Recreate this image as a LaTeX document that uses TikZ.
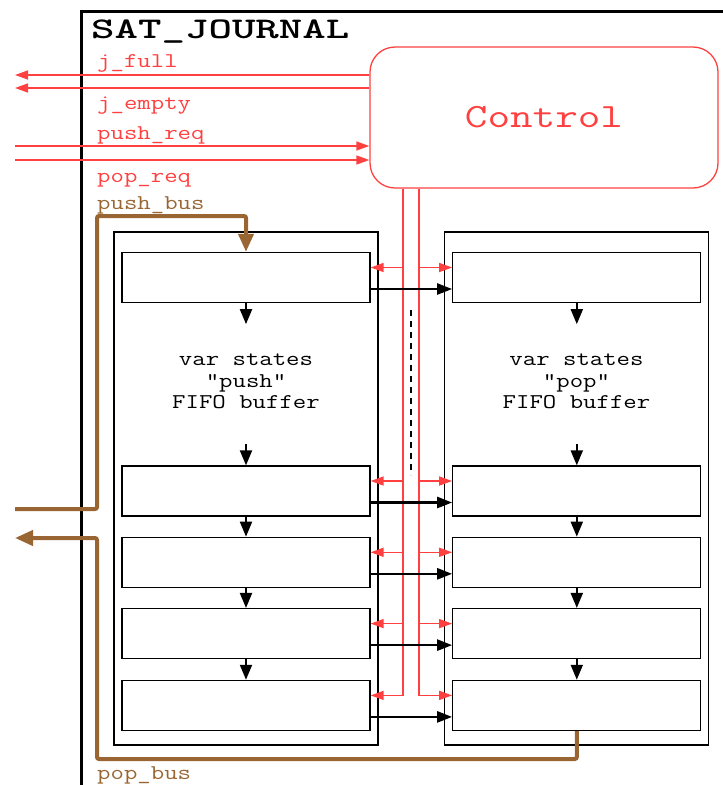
\documentclass[tikz,border=0pt]{standalone}
\usepackage{fontspec}
\usetikzlibrary{arrows.meta,positioning,calc}
\definecolor{ctlRed}{RGB}{255,64,64}
\definecolor{busBrown}{RGB}{153,102,51}
\newcommand{\widett}[2][1.24]{\scalebox{#1}[1]{#2}}
\tikzset{
	journal/.style={
		draw,
		line width=3pt,
		anchor=north west,
		minimum width=700pt,
		minimum height=800pt,
	},
	fifo/.style={draw, line width=1.2pt, minimum width=264pt, minimum height=513pt},
	slot/.style={draw, line width=1.3pt, minimum width=248pt, minimum height=50pt},
	ctlbox/.style={
		draw=ctlRed,
		line width=1.3pt,
		rounded corners=25pt,
		minimum width=348pt,
		minimum height=141pt,
		text=ctlRed,
		font=\ttfamily\fontsize{34}{36}\selectfont,
	},
	sigtext/.style={anchor=base west, inner sep=0pt, text=ctlRed, font=\ttfamily\fontsize{21}{23}\selectfont},
	bustext/.style={sigtext, text=busBrown},
	buftext/.style={inner sep=0pt, font=\ttfamily\fontsize{21}{21.5}\selectfont},
	sig/.style={draw=ctlRed, line width=1.5pt, -{Triangle[length=13pt,width=9pt]}},
	flow/.style={line width=2pt, -{Triangle[length=15pt,width=12pt]}},
	data/.style={line width=2.5pt, -{Triangle[length=15pt,width=11pt]}},
	bus/.style={draw=busBrown, line width=4pt, rounded corners=2pt, -{Triangle[length=18pt,width=15pt]}},
	gap/.style={line width=1.3pt, dash pattern=on 6pt off 5pt},
}
\begin{document}
\begin{tikzpicture}[x=1pt, y=-1pt]
	\useasboundingbox (0,0) rectangle (723,785);
	% --- Journal frame ---
	\node[journal] (journal) at (80,10) {};
	\node[anchor=base west, inner sep=0pt, font=\ttfamily\bfseries\fontsize{30}{32}\selectfont] (title) at (91,38.5) {\widett[1.49]{SAT\_JOURNAL}};
	\node[ctlbox] (ctrl) at (544,117.5) {\widett[1.29]{Control}};
	
	% --- Port labels ---
	\node[sigtext] (lfull) at (97,67) {\widett{j\_full}};
	\node[sigtext] (lempty) at (97,109) {\widett{j\_empty}};
	\node[sigtext] (lpushreq) at (97,139) {\widett{push\_req}};
	\node[sigtext] (lpopreq) at (97,182) {\widett{pop\_req}};
	\node[bustext] (lpushbus) at (97,209) {\widett{push\_bus}};
	\node[bustext] (lpopbus) at (97,779) {\widett{pop\_bus}};
	
	% --- Buffers ---
	\node[fifo] (pushfifo) at (246,488.5) {};
	\node[fifo] (popfifo) at (576.5,488.5) {};
	\node[slot] (push1) at (246,277.5) {};
	\node[slot] (push2) at (246,491) {};
	\node[slot] (push3) [below=20pt of push2] {};
	\node[slot] (push4) [below=20pt of push3] {};
	\node[slot] (push5) [below=20.5pt of push4] {};
	\node[slot] (pop1) [right=81.5pt of push1] {};
	\node[slot] (pop2) [right=81.5pt of push2] {};
	\node[slot] (pop3) [right=81.5pt of push3] {};
	\node[slot] (pop4) [right=81.5pt of push4] {};
	\node[slot] (pop5) [right=81.5pt of push5] {};
	\node[buftext] (pushtxt) at (246,383) {\widett{\begin{tabular}{@{}c@{}}var states\\"push"\\FIFO buffer\end{tabular}}};
	\node[buftext] (poptxt) at (576.5,383) {\widett{\begin{tabular}{@{}c@{}}var states\\"pop"\\FIFO buffer\end{tabular}}};
	
	% --- Control signals ---
	\coordinate (fullout) at (15,75);
	\coordinate (emptyout) at (15,88);
	\coordinate (pushin) at (15,146);
	\coordinate (popin) at (15,160);
	\draw[sig] (ctrl.west |- fullout) -- (fullout);
	\draw[sig] (ctrl.west |- emptyout) -- (emptyout);
	\draw[sig] (pushin) -- (ctrl.west |- pushin);
	\draw[sig] (popin) -- (ctrl.west |- popin);
	
	\coordinate (busL) at (403,0);
	\coordinate (busR) at (419,0);
	\path ([yshift=10pt]push5.east) coordinate (tapL5) ([yshift=10pt]pop5.west) coordinate (tapR5);
	\draw[sig] (ctrl.south -| busL) |- (tapL5);
	\draw[sig] (ctrl.south -| busR) |- (tapR5);
	\foreach \i in {1,...,4} {
		\path ([yshift=10pt]push\i.east) coordinate (tapL\i) ([yshift=10pt]pop\i.west) coordinate (tapR\i);
		\draw[sig] (tapL\i -| busL) -- (tapL\i);
		\draw[sig] (tapR\i -| busR) -- (tapR\i);
	}
	\coordinate (gaptop) at (411,310);
	\coordinate (gapbot) at (411,475);
	\draw[gap] (gaptop) -- (gapbot);
	
	% --- Data flow ---
	\foreach \i in {1,...,5}
		\draw[data] ([yshift=-11.5pt]push\i.east) -- ([yshift=-11.5pt]pop\i.west);
	\foreach \col in {push,pop} {
		\coordinate (\col top) at ([yshift=-21pt]\col1.south);
		\coordinate (\col bot) at ([yshift=21pt]\col2.north);
		\draw[flow] (\col1.south) -- (\col top);
		\draw[flow] (\col bot) -- (\col2.north);
		\draw[flow] (\col2.south) -- (\col3.north);
		\draw[flow] (\col3.south) -- (\col4.north);
		\draw[flow] (\col4.south) -- (\col5.north);
	}
	
	% --- Buses ---
	\coordinate (pushbusin) at (15,509);
	\coordinate (pushbusturn) at (97,216);
	\coordinate (popbusturn) at (97,759);
	\coordinate (popbusout) at (15,538);
	\draw[bus] (pushbusin) -| (pushbusturn) -| (push1.north);
	\draw[bus] (pop5.south) |- (popbusturn) |- (popbusout);
\end{tikzpicture}
\end{document}
